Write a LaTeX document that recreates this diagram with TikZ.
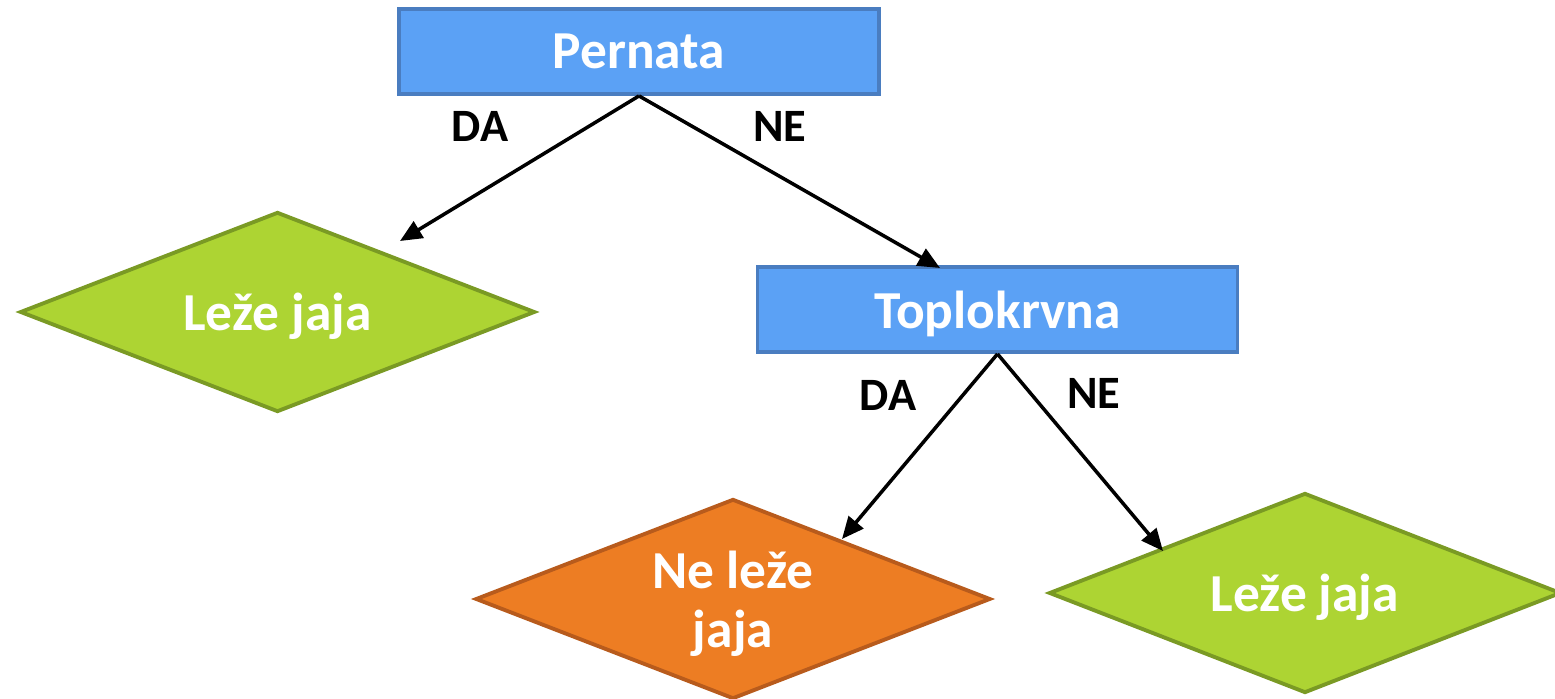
\documentclass[tikz,border=0pt]{standalone}
\usepackage{fontspec}
\setmainfont{Carlito}
\usetikzlibrary{arrows.meta,shapes.geometric}
\definecolor{boxblue}{HTML}{5BA1F5}
\definecolor{boxblueline}{HTML}{4A7DC0}
\definecolor{leafgreen}{HTML}{ADD433}
\definecolor{leafgreenline}{HTML}{7A9A24}
\definecolor{leaforange}{HTML}{ED7D23}
\definecolor{leaforangeline}{HTML}{B85B1C}
\tikzset{
  question/.style={rectangle, draw=boxblueline, fill=boxblue, line width=1.1pt,
    minimum width=4.8cm, minimum height=0.85cm, inner sep=0pt, text depth=0pt,
    text=white, font=\fontsize{15.2}{17}\selectfont\bfseries},
  leaf/.style={diamond, aspect=2.6, line width=1.1pt, inner sep=0pt,
    minimum width=5.15cm, minimum height=2cm, align=center, text depth=0pt,
    text=white, font=\fontsize{15.2}{16.8}\selectfont\bfseries},
  greenleaf/.style={leaf, draw=leafgreenline, fill=leafgreen},
  orangeleaf/.style={leaf, draw=leaforangeline, fill=leaforange},
  branch/.style={line width=1pt, -{Triangle[length=0.22cm,width=0.19cm]}},
  answer/.style={font=\fontsize{13.2}{15}\selectfont\bfseries}
}
\begin{document}
\begin{tikzpicture}
\useasboundingbox (0,0) rectangle (15.55,6.98);
\clip (0,0) rectangle (15.55,6.98);

% question boxes
\node[question] (pernata) at (6.39,6.465) {Pernata};
\node[question] (toplo) at (9.975,3.885) {Toplokrvna};

% leaves
\node[greenleaf] (leftleaf) at (2.775,3.86) {Leže jaja};
\node[orangeleaf] (midleaf) at (7.33,0.99) {Ne leže\\jaja};
\node[greenleaf, minimum width=5.12cm] (rightleaf) at (13.05,1.05) {Leže jaja};

% arrow tips
\coordinate (tipA) at (4.00,4.57);
\coordinate (tipB) at (9.40,4.30);
\coordinate (tipC) at (8.42,1.59);
\coordinate (tipD) at (11.63,1.47);

\draw[branch] (pernata.south) -- (tipA);
\draw[branch] (pernata.south) -- (tipB);
\draw[branch] (toplo.south) -- (tipC);
\draw[branch] (toplo.south) -- (tipD);

% branch labels
\node[answer] (da1) at (4.80,5.72) {DA};
\node[answer] (ne1) at (7.80,5.72) {NE};
\node[answer] (da2) at (8.88,3.03) {DA};
\node[answer] (ne2) at (10.94,3.05) {NE};
\end{tikzpicture}
\end{document}
